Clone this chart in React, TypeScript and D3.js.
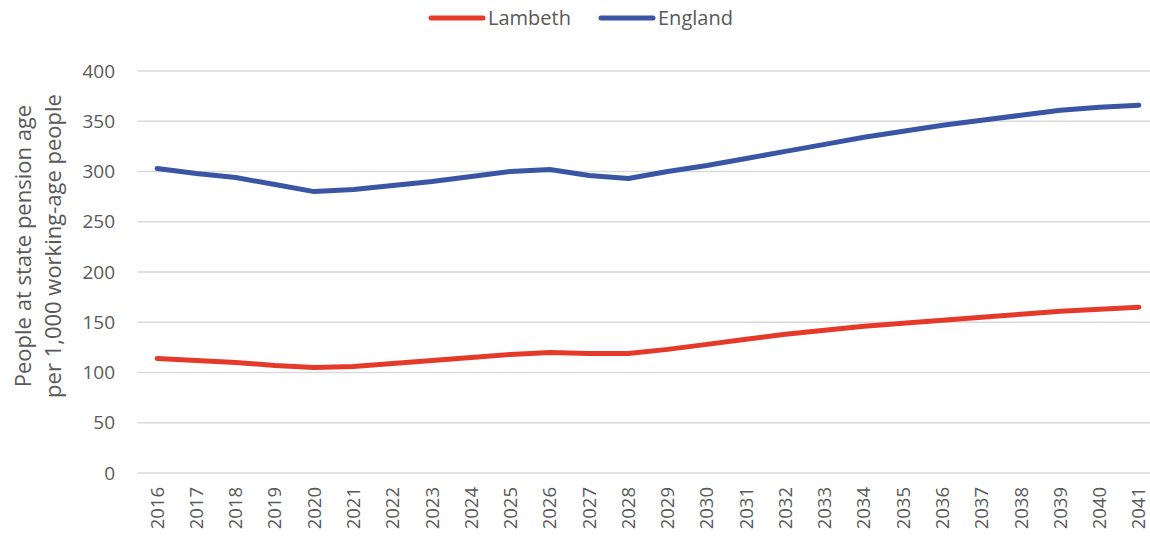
import React from "react";
import * as d3 from "d3";

const years = ["2016","2017","2018","2019","2020","2021","2022","2023","2024","2025","2026","2027","2028","2029","2030","2031","2032","2033","2034","2035","2036","2037","2038","2039","2040","2041"];
const lambeth = [114,112,110,107,105,106,109,112,115,118,120,119,119,123,128,133,138,142,146,149,152,155,158,161,163,165];
const england = [303,298,294,287,280,282,286,290,295,300,302,296,293,300,306,313,320,327,334,340,346,351,356,361,364,366];
const yTicks = [0,50,100,150,200,250,300,350,400];
const seriesNames = ["Lambeth","England"];
const seriesColors = ["#e53a2a","#3b55a5"];

export default function App() {
  const W = 1150, H = 540;
  const left = 137.5, right = 1158.5, top = 71, bottom = 473;
  const x = d3.scaleBand<string>().domain(years).range([left, right]);
  const y = d3.scaleLinear().domain([0, 400]).range([bottom, top]);
  const line = d3.line<number>().x((_, i) => (x(years[i]) as number) + x.bandwidth() / 2).y(d => y(d));
  const font = "'Open Sans', 'Liberation Sans', sans-serif";
  const tc = "#595959";
  const data = [lambeth, england];
  const legendX = [431, 601];
  return (
    <svg width={W} height={H} style={{ position: "absolute", left: 0, top: 0, background: "#fff" }} fontFamily={font}>
      {yTicks.map(t => (
        <g key={t}>
          <line x1={left} x2={right} y1={y(t)} y2={y(t)} stroke="#d9d9d9" strokeWidth={1.3} />
          <text x={115} y={y(t)} dy="0.35em" textAnchor="end" fontSize={19} fill={tc}>{t}</text>
        </g>
      ))}
      {years.map(yr => {
        const cx = (x(yr) as number) + x.bandwidth() / 2;
        return (
          <text key={yr} transform={`translate(${cx},487) rotate(-90)`} textAnchor="end" dy="0.35em" fontSize={18.5} fill={tc}>{yr}</text>
        );
      })}
      <text transform="translate(23,246) rotate(-90)" textAnchor="middle" dy="0.35em" fontSize={22} fill={tc}>People at state pension age</text>
      <text transform="translate(53,246) rotate(-90)" textAnchor="middle" dy="0.35em" fontSize={22} fill={tc}>per 1,000 working-age people</text>
      {data.map((d, i) => (
        <path key={i} d={line(d) || ""} fill="none" stroke={seriesColors[i]} strokeWidth={5} strokeLinecap="round" strokeLinejoin="round" />
      ))}
      {seriesNames.map((n, i) => (
        <g key={n}>
          <line x1={legendX[i]} x2={legendX[i] + 52} y1={18} y2={18} stroke={seriesColors[i]} strokeWidth={5} strokeLinecap="round" />
          <text x={legendX[i] + 57} y={18} dy="0.35em" fontSize={20} fill={tc}>{n}</text>
        </g>
      ))}
    </svg>
  );
}
